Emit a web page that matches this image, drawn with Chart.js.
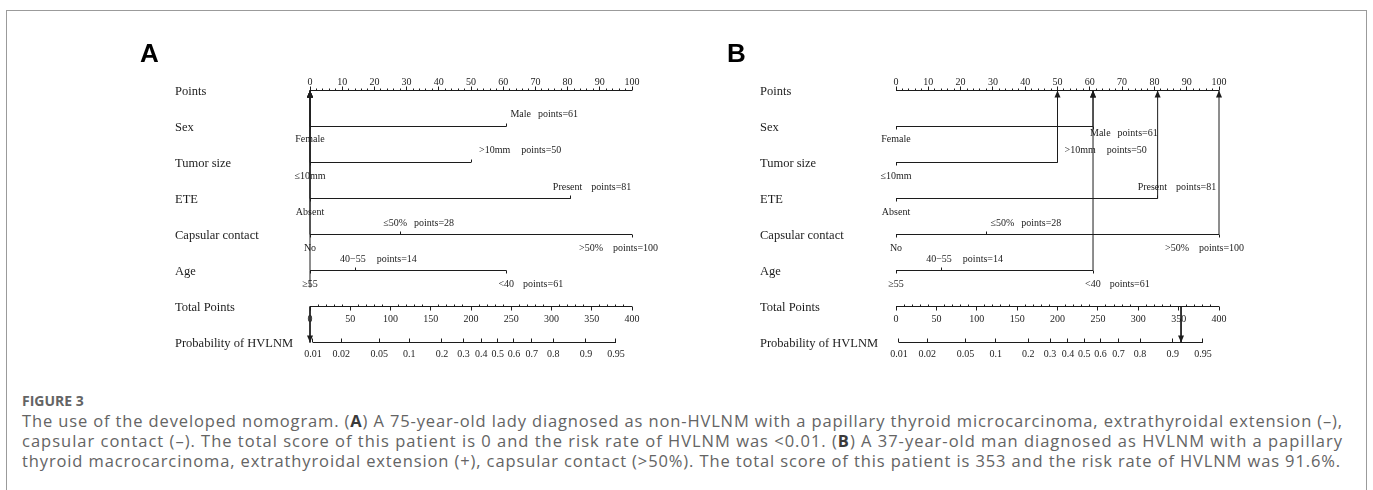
<!DOCTYPE html>
<html>
<head>
<meta charset="utf-8">
<title>Figure 3 - nomogram use</title>
<script src="https://cdn.jsdelivr.net/npm/chart.js@4.4.1/dist/chart.umd.min.js"></script>
<style>
    html, body { margin: 0; padding: 0; background: #fff; }
    body { position: relative; width: 1373px; height: 490px; overflow: hidden; }
    #frame { position: absolute; left: 6px; top: 10px; width: 1359px; height: 520px; border: 1px solid #9b9b9b; border-bottom: none; }
    canvas { position: absolute; top: 0; }
    #chartA { left: 0; }
    #chartB { left: 686px; }
    .tag { position: absolute; top: 40px; font: bold 26px/26px "Liberation Sans", Arial, sans-serif; color: #000; }
    #caption { position: absolute; left: 22px; top: 391px; color: #646464; font-family: "Open Sans", sans-serif; white-space: nowrap; }
    #caption .fig { font-weight: 700; font-size: 14px; line-height: 20px; }
    #caption .ln { font-size: 16.5px; line-height: 20px; width: max-content; }
    #caption b { color: #3a3a3a; }
</style>
</head>
<body>
<div id="frame"></div>
<canvas id="chartA" width="686" height="380"></canvas>
<canvas id="chartB" width="687" height="380"></canvas>
<div class="tag" style="left:140px">A</div>
<div class="tag" style="left:727px">B</div>
<div id="caption">
    <div class="fig">FIGURE 3</div>
    <div class="ln" data-w="1321">The use of the developed nomogram. (<b>A</b>) A 75-year-old lady diagnosed as non-HVLNM with a papillary thyroid microcarcinoma, extrathyroidal extension (–),</div>
    <div class="ln" data-w="1321">capsular contact (–). The total score of this patient is 0 and the risk rate of HVLNM was &lt;0.01. (<b>B</b>) A 37-year-old man diagnosed as HVLNM with a papillary</div>
    <div class="ln" data-w="1319">thyroid macrocarcinoma, extrathyroidal extension (+), capsular contact (&gt;50%). The total score of this patient is 353 and the risk rate of HVLNM was 91.6%.</div>
</div>

<script>
const rowNames = ['Points', 'Sex', 'Tumor size', 'ETE', 'Capsular contact', 'Age', 'Total Points', 'Probability of HVLNM'];

const pointTicks = [0, 10, 20, 30, 40, 50, 60, 70, 80, 90, 100];
const totalTicks = [0, 50, 100, 150, 200, 250, 300, 350, 400];
const probTicks = [0.01, 0.02, 0.05, 0.1, 0.2, 0.3, 0.4, 0.5, 0.6, 0.7, 0.8, 0.9, 0.95];

const sexLevels = ['Female', 'Male'];
const sexPoints = [0, 61];
const sizeLevels = ['≤10mm', '>10mm'];
const sizePoints = [0, 50];
const eteLevels = ['Absent', 'Present'];
const etePoints = [0, 81];
const capsuleLevels = ['No', '≤50%', '>50%'];
const capsulePoints = [0, 28, 100];
const ageLevels = ['≥55', '40−55', '<40'];
const agePoints = [0, 14, 61];

// linear predictor behind the probability axis: logit(p) = a + b * total
const lpIntercept = -4.669;
const lpSlope = 0.02003;

// points picked for each factor by the two worked cases
const caseAPoints = [0, 0, 0, 0, 0];
const caseBPoints = [61, 50, 81, 100, 61];

const factorLevels = [sexLevels, sizeLevels, eteLevels, capsuleLevels, ageLevels];
const factorPoints = [sexPoints, sizePoints, etePoints, capsulePoints, agePoints];

const ink = '#1c1c1c';

// where each level label sits: dx = left edge offset from its tick (null = centred), dy = offset from the line
const labelsA = [
    [{dx: null, dy: 13}, {dx: 4, dy: -12, gap: 7}],
    [{dx: null, dy: 14}, {dx: 8, dy: -12, gap: 11}],
    [{dx: null, dy: 14}, {dx: -18, dy: -11, gap: 9}],
    [{dx: null, dy: 14}, {dx: -17, dy: -11, gap: 7}, {dx: -53, dy: 14, gap: 10}],
    [{dx: null, dy: 14}, {dx: -15, dy: -11, gap: 11}, {dx: -8, dy: 14, gap: 9}]
];
const labelsB = [
    [{dx: null, dy: 13}, {dx: -3, dy: 7, gap: 7}],
    [{dx: null, dy: 14}, {dx: 7, dy: -12, gap: 11}],
    [{dx: null, dy: 14}, {dx: -20, dy: -11, gap: 9}],
    [{dx: null, dy: 14}, {dx: 4, dy: -11, gap: 7}, {dx: -54, dy: 14, gap: 10}],
    [{dx: null, dy: 14}, {dx: -15, dy: -11, gap: 11}, {dx: -8, dy: 14, gap: 9}]
];

const probToTotal = (p) => (Math.log(p / (1 - p)) - lpIntercept) / lpSlope;

const lineSet = (pts, axis) => ({
    data: pts,
    xAxisID: axis || 'x',
    showLine: true,
    borderColor: ink,
    borderWidth: 1,
    pointRadius: 0,
    pointHoverRadius: 0,
    tension: 0,
    clip: false
});

function buildDatasets(casePoints) {
    const sets = [];
    sets.push(lineSet([{x: 0, y: 0}, {x: 100, y: 0}]));
    factorPoints.forEach((pts, i) => {
        sets.push(lineSet([{x: Math.min(...pts), y: i + 1}, {x: Math.max(...pts), y: i + 1}]));
    });
    sets.push(lineSet([{x: 0, y: 6}, {x: 400, y: 6}], 'xTotal'));
    sets.push(lineSet([
        {x: probToTotal(probTicks[0]), y: 7},
        {x: probToTotal(probTicks[probTicks.length - 1]), y: 7}
    ], 'xTotal'));

    // arrows from the chosen level up to the Points scale
    casePoints.forEach((v, i) => {
        sets.push(lineSet([{x: v, y: i + 1}, {x: v, y: 0}]));
    });
    const total = casePoints.reduce((a, b) => a + b, 0);
    sets.push(lineSet([{x: total, y: 6}, {x: total, y: 7}], 'xTotal'));
    return sets;
}

function makeLayer(style, casePoints) {
    return {
        id: 'nomogramLayer',
        afterDatasetsDraw(chart) {
            const ctx = chart.ctx;
            const xs = chart.scales.x, xt = chart.scales.xTotal, ys = chart.scales.y;
            const rowY = (i) => ys.getPixelForValue(i);
            const sharp = (v) => Math.round(v - 0.5) + 0.5;

            ctx.save();
            ctx.strokeStyle = ink;
            ctx.fillStyle = ink;
            ctx.lineWidth = 1;

            const tick = (px, py, len) => {
                ctx.beginPath();
                ctx.moveTo(sharp(px), py);
                ctx.lineTo(sharp(px), py + len);
                ctx.stroke();
            };
            const head = (px, tipY, dir) => {
                ctx.beginPath();
                ctx.moveTo(px, tipY);
                ctx.lineTo(px - 3, tipY + dir * 7);
                ctx.lineTo(px + 3, tipY + dir * 7);
                ctx.closePath();
                ctx.fill();
            };

            // row titles
            ctx.font = '12.5px "Liberation Serif"';
            ctx.textAlign = 'left';
            ctx.textBaseline = 'middle';
            rowNames.forEach((name, i) => ctx.fillText(name, style.nameX, rowY(i) + 1));

            // Points scale (labels above)
            ctx.font = '10px "Liberation Serif"';
            ctx.textAlign = 'center';
            ctx.textBaseline = 'alphabetic';
            for (let v = 0; v <= 100; v += 2) {
                tick(xs.getPixelForValue(v), rowY(0), v % 10 ? -2 : -4);
            }
            pointTicks.forEach(v => ctx.fillText(String(v), xs.getPixelForValue(v), rowY(0) - 5.5));

            // Total Points scale (labels below)
            for (let v = 0; v <= 400; v += 10) {
                tick(xt.getPixelForValue(v), rowY(6), v % 50 ? -2 : 4);
            }
            ctx.textBaseline = 'middle';
            totalTicks.forEach(v => ctx.fillText(String(v), xt.getPixelForValue(v), rowY(6) + 13));

            // probability scale
            probTicks.forEach(p => {
                const px = xt.getPixelForValue(probToTotal(p));
                tick(px, rowY(7), -4);
                ctx.fillText(String(p), px, rowY(7) + 12);
            });

            // factor levels: tick toward the label, then the label
            factorLevels.forEach((levels, i) => {
                const ly = rowY(i + 1);
                levels.forEach((name, j) => {
                    const pos = style.labels[i][j];
                    const px = xs.getPixelForValue(factorPoints[i][j]);
                    tick(px, ly, pos.dy > 0 ? 3 : -3);
                    if (pos.dx === null) {
                        ctx.textAlign = 'center';
                        ctx.fillText(name, px, ly + pos.dy);
                    } else {
                        ctx.textAlign = 'left';
                        const left = px + pos.dx;
                        ctx.fillText(name, left, ly + pos.dy);
                        ctx.fillText('points=' + factorPoints[i][j], left + ctx.measureText(name).width + pos.gap, ly + pos.dy);
                    }
                });
            });

            // arrow heads for the worked case
            casePoints.forEach(v => head(xs.getPixelForValue(v), rowY(0), 1));
            const total = casePoints.reduce((a, b) => a + b, 0);
            head(xt.getPixelForValue(total), rowY(7), -1);
            if (style.tail) {
                const px = xs.getPixelForValue(casePoints[casePoints.length - 1]);
                ctx.beginPath();
                ctx.moveTo(px, rowY(5));
                ctx.lineTo(px, rowY(5) + style.tail);
                ctx.stroke();
            }
            ctx.restore();
        }
    };
}

function drawPanel(canvasId, casePoints, style) {
    return new Chart(document.getElementById(canvasId), {
        type: 'scatter',
        data: { datasets: buildDatasets(casePoints) },
        options: {
            responsive: false,
            animation: false,
            devicePixelRatio: 1,
            events: [],
            layout: { padding: style.pad },
            plugins: {
                legend: { display: false },
                tooltip: { enabled: false }
            },
            scales: {
                x: { type: 'linear', min: 0, max: 100, display: false },
                xTotal: { type: 'linear', axis: 'x', position: 'bottom', min: 0, max: 400, display: false },
                y: { type: 'linear', min: 0, max: 7, reverse: true, display: false }
            }
        },
        plugins: [makeLayer(style, casePoints)]
    });
}

drawPanel('chartA', caseAPoints, {
    pad: { left: 310, right: 686 - 632, top: 90.5, bottom: 380 - 342.5 },
    nameX: 175,
    tail: 17,
    labels: labelsA
});

drawPanel('chartB', caseBPoints, {
    pad: { left: 210, right: 687 - 533, top: 90.5, bottom: 380 - 342.5 },
    nameX: 74,
    tail: 0,
    labels: labelsB
});

// stretch caption lines to the measured widths of the printed caption
const fitCaption = () => {
    document.querySelectorAll('#caption .ln').forEach(el => {
        el.style.letterSpacing = '0px';
        const w = el.getBoundingClientRect().width;
        const target = Number(el.dataset.w);
        el.style.letterSpacing = ((target - w) / el.textContent.length) + 'px';
    });
};
fitCaption();
document.fonts.ready.then(fitCaption);
</script>
</body>
</html>
